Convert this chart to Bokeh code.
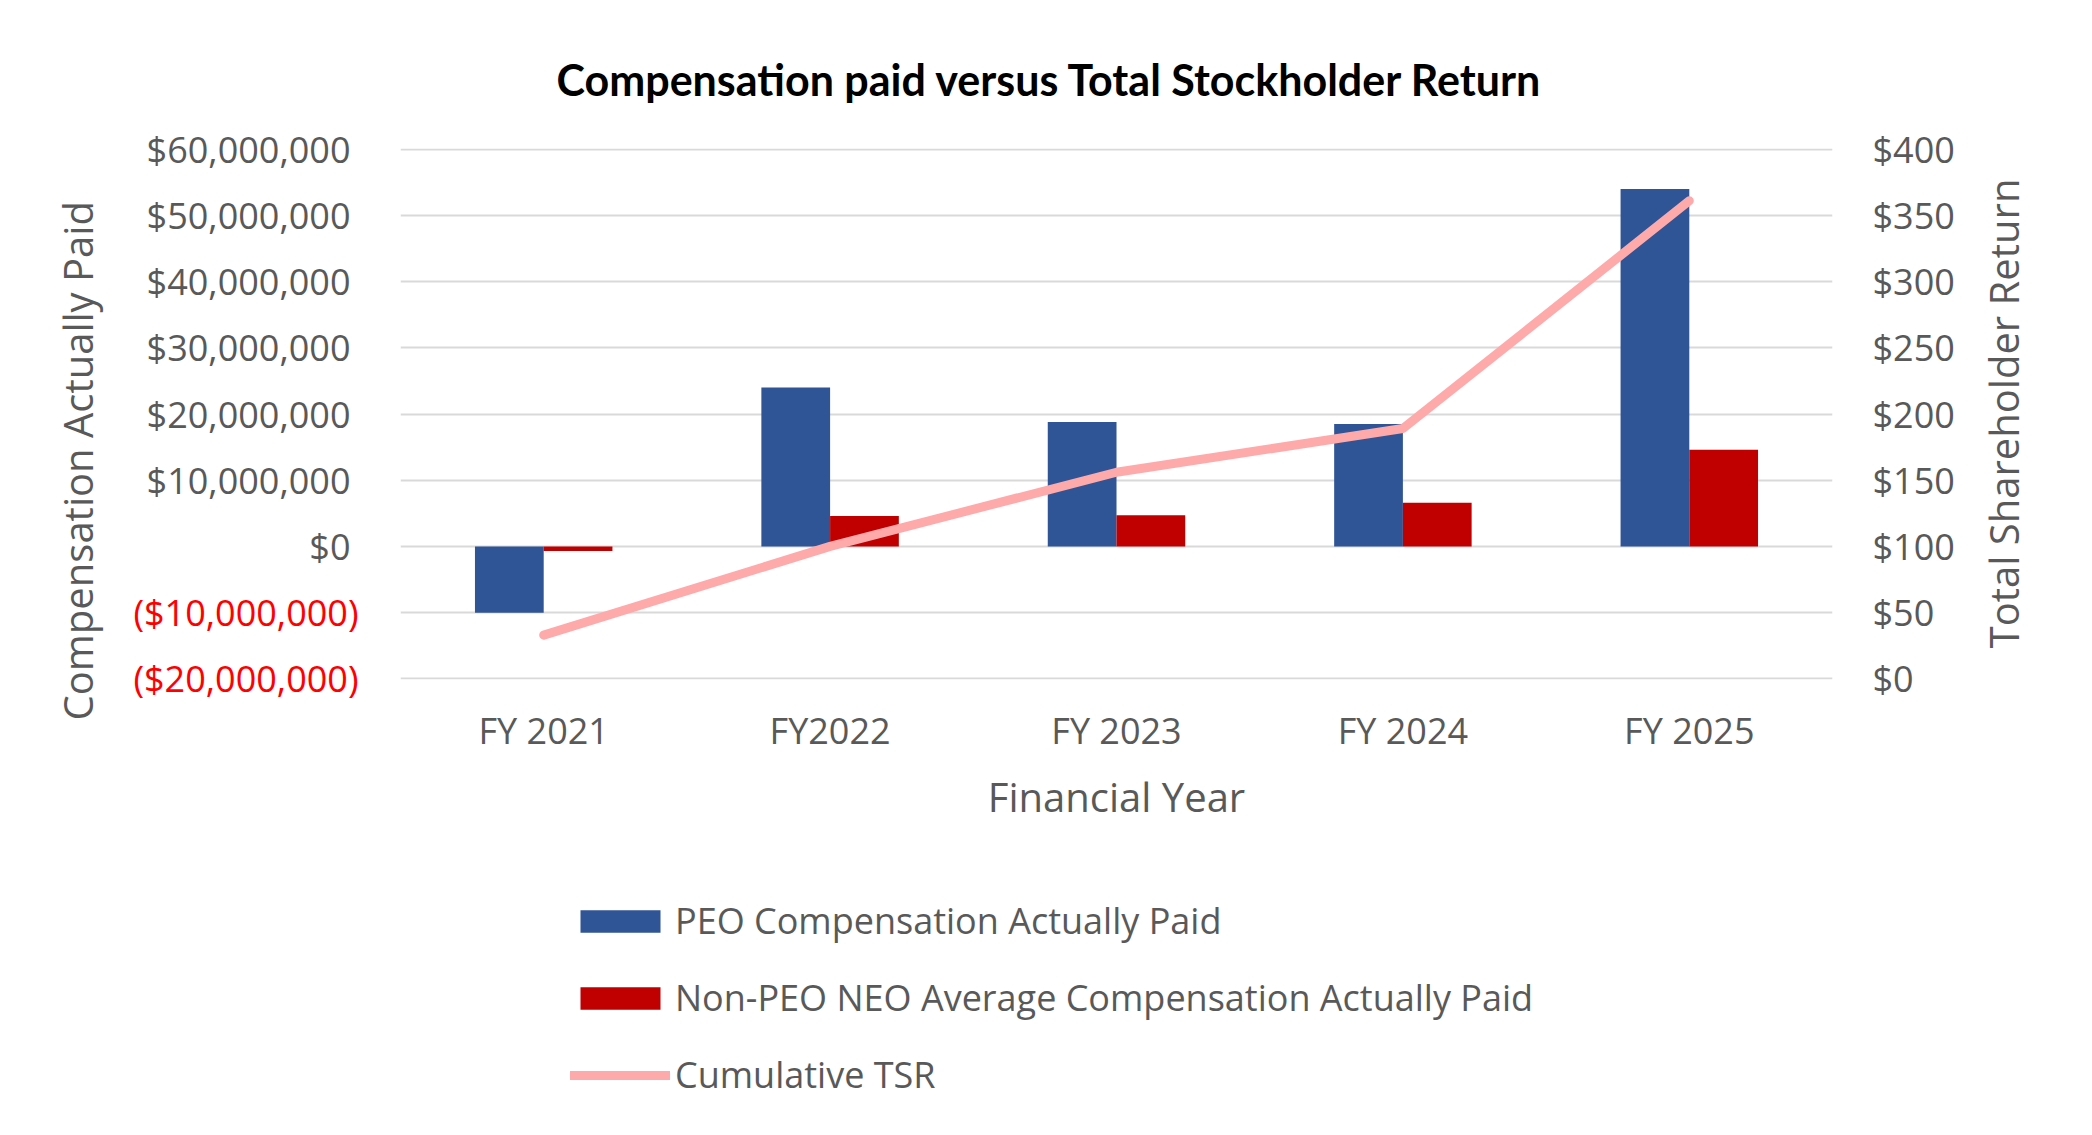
import math
from bokeh.plotting import figure
from bokeh.layouts import column
from bokeh.models import (Range1d, FactorRange, LinearAxis, FixedTicker, NumeralTickFormatter,
                          CustomJSTickFormatter, Legend, LegendItem, ColumnDataSource)
from bokeh.transform import dodge
from bokeh.embed import file_html
from bokeh.resources import INLINE

# ---- data ----
years = ["FY 2021", "FY2022", "FY 2023", "FY 2024", "FY 2025"]
peo_cap = [-10_000_000, 24_000_000, 18_800_000, 18_500_000, 54_000_000]
neo_cap = [-700_000, 4_600_000, 4_700_000, 6_600_000, 14_600_000]
tsr = [33, 100, 156, 189, 361]
comp_ticks = [-20_000_000, -10_000_000, 0, 10_000_000, 20_000_000, 30_000_000,
              40_000_000, 50_000_000, 60_000_000]
tsr_ticks = [0, 50, 100, 150, 200, 250, 300, 350, 400]

title_text = "Compensation paid versus Total Stockholder Return"
left_title = "Compensation Actually Paid"
right_title = "Total Shareholder Return"
x_title = "Financial Year"
legend_labels = ["PEO Compensation Actually Paid",
                 "Non-PEO NEO Average Compensation Actually Paid",
                 "Cumulative TSR"]

BLUE = "#2F5597"
RED = "#C00000"
PINK = "#FFAAAA"
GRAY = "#595959"
NEG_RED = "#FF0000"
GRID = "#D9D9D9"
FONT = "Open Sans"
NBSP = "\u00a0"

W = 2076
H_CHART, H_LEG = 850, 269
FL, FR, FT, FB = 400, 1832, 148, 679          # frame edges in page pixels

src = ColumnDataSource(dict(year=years, peo=peo_cap, neo=neo_cap, tsr=tsr))

# a hair of padding so the outermost grid lines are drawn
pad_l = (comp_ticks[-1] - comp_ticks[0]) * 0.00125
pad_r = (tsr_ticks[-1] - tsr_ticks[0]) * 0.00125

p = figure(width=W, height=H_CHART, x_range=FactorRange(*years),
           y_range=Range1d(comp_ticks[0] - pad_l, comp_ticks[-1] + pad_l),
           output_backend="svg", toolbar_location=None,
           min_border_left=FL, min_border_right=W - FR,
           min_border_top=FT, min_border_bottom=H_CHART - FB,
           outline_line_color=None, background_fill_color="white")
p.extra_y_ranges = {"tsr": Range1d(tsr_ticks[0] - pad_r, tsr_ticks[-1] + pad_r)}

peo_r = p.vbar(x=dodge("year", -0.12, range=p.x_range), top="peo", bottom=0, width=0.24,
               source=src, fill_color=BLUE, line_color=None)
neo_r = p.vbar(x=dodge("year", 0.12, range=p.x_range), top="neo", bottom=0, width=0.24,
               source=src, fill_color=RED, line_color=None)
tsr_r = p.line(x="year", y="tsr", source=src, y_range_name="tsr", line_color=PINK,
               line_width=9, line_cap="round", line_join="round")

# grid
p.xgrid.grid_line_color = None
p.ygrid.grid_line_color = GRID
p.ygrid.grid_line_width = 2
p.ygrid.ticker = FixedTicker(ticks=comp_ticks)

def plain(ax, size="36px", color=GRAY):
    ax.axis_line_color = None
    ax.major_tick_line_color = None
    ax.minor_tick_line_color = None
    ax.major_tick_out = 0
    ax.major_tick_in = 0
    ax.minor_tick_out = 0
    ax.minor_tick_in = 0
    ax.major_label_text_font = FONT
    ax.major_label_text_font_size = size
    ax.major_label_text_color = color

def title_style(ax, text):
    ax.axis_label = text
    ax.axis_label_text_font = FONT
    ax.axis_label_text_font_size = "40px"
    ax.axis_label_text_font_style = "normal"
    ax.axis_label_text_color = GRAY

# chart title (standoff kept so the title panel fits inside min_border_top)
p.title.text = title_text
p.title.text_font = "Lato"
p.title.text_font_style = "bold"
p.title.text_font_size = "43px"
p.title.text_color = "black"
p.title.align = "left"
p.title.offset = 156
p.title.standoff = 88

# left axis: non-negative values in grey
yl = p.yaxis[0]
plain(yl)
yl.ticker = FixedTicker(ticks=[t for t in comp_ticks if t >= 0])
yl.formatter = NumeralTickFormatter(format="$0,0")
yl.major_label_standoff = 50

# left axis, negative values in red parentheses (Excel's [Red]($#,##0));
# a negative standoff pulls its labels back over the grey axis' column
yneg = LinearAxis(ticker=FixedTicker(ticks=[t for t in comp_ticks if t < 0]),
                  formatter=CustomJSTickFormatter(code="""
    const s = Math.round(Math.abs(tick)).toString().replace(/\\B(?=(\\d{3})+(?!\\d))/g, ',');
    return '($' + s + ')';
"""))
plain(yneg, color=NEG_RED)
yneg.major_label_standoff = -215
# trailing no-break spaces move the title a little below centre, as in Excel
title_style(yneg, left_title + NBSP * 9)
yneg.axis_label_standoff = 25
p.add_layout(yneg, "left")

# right axis
yr = LinearAxis(y_range_name="tsr", ticker=FixedTicker(ticks=tsr_ticks),
                formatter=NumeralTickFormatter(format="$0"))
plain(yr)
yr.major_label_standoff = 40
title_style(yr, right_title)
yr.axis_label_standoff = 46
try:
    yr.axis_label_align = "start"
    yr.axis_label_orientation = math.pi / 2      # read bottom-to-top, like Excel
    yr.axis_label = NBSP * 3 + right_title
except AttributeError:
    yr.axis_label = right_title
p.add_layout(yr, "right")

# x axis
xa = p.xaxis[0]
plain(xa)
xa.major_label_standoff = 26
title_style(xa, x_title)
xa.axis_label_standoff = 11

# legend strip below the chart (its own canvas, so nothing clips it);
# the key renderers sit outside the strip's ranges so only their swatches show
p2 = figure(width=W, height=H_LEG, x_range=Range1d(0, 1), y_range=Range1d(0, 1),
            output_backend="svg", toolbar_location=None, x_axis_type=None, y_axis_type=None,
            min_border=0, outline_line_color=None, background_fill_color="white")
p2.xgrid.visible = False
p2.ygrid.visible = False
k1 = p2.vbar(x=[-10], top=[-10], bottom=[-11], width=0.1, fill_color=BLUE, line_color=None)
k2 = p2.vbar(x=[-10], top=[-10], bottom=[-11], width=0.1, fill_color=RED, line_color=None)
k3 = p2.line(x=[-10, -9], y=[-10, -10], line_color=PINK, line_width=9, line_cap="round")

legend = Legend(items=[LegendItem(label=legend_labels[0], renderers=[k1]),
                       LegendItem(label=legend_labels[1], renderers=[k2]),
                       LegendItem(label=legend_labels[2], renderers=[k3])],
                location=(170, 20), orientation="vertical",
                padding=0, margin=0, spacing=28, label_standoff=5,
                glyph_width=100, glyph_height=28, label_height=28,
                border_line_color=None, background_fill_alpha=0,
                label_text_font=FONT, label_text_font_size="36px",
                label_text_color=GRAY)
p2.add_layout(legend)

open("out.html", "w").write(file_html(column(p, p2, spacing=0), INLINE))
